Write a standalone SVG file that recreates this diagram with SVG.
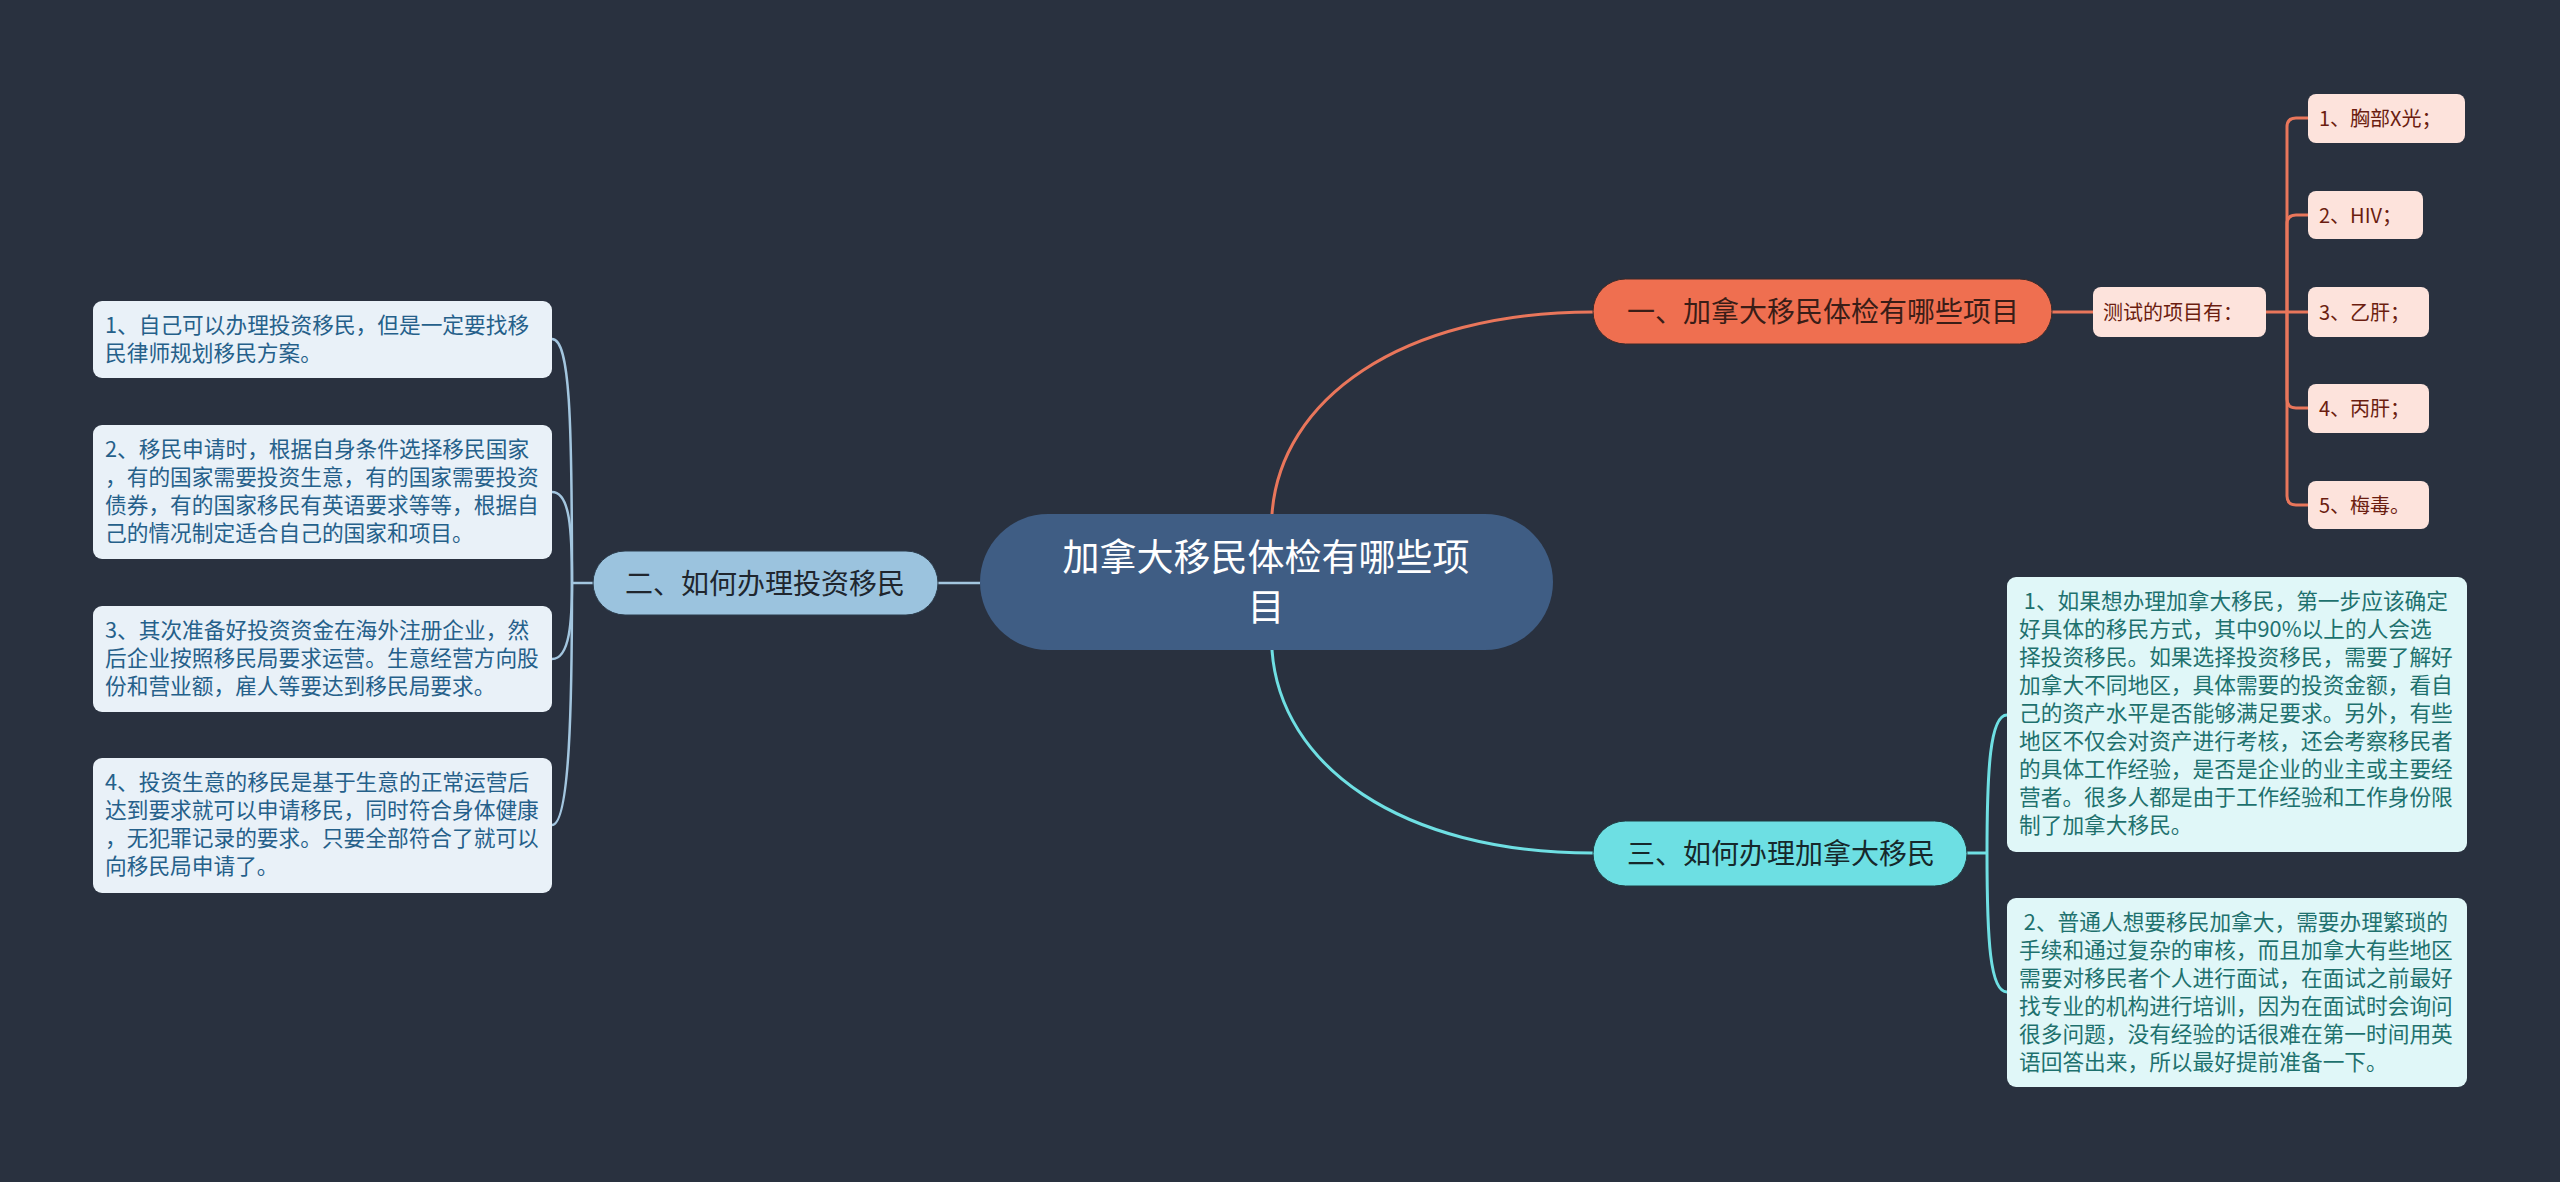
<svg xmlns="http://www.w3.org/2000/svg" width="2560" height="1182" viewBox="0 0 2560 1182">
<style>
text{font-family:"Noto Sans CJK SC","Noto Sans",sans-serif;}
.c{fill:#ffffff;font-size:37px;text-anchor:middle;}
.b{font-size:28px;}
.ol{fill:#fde3dc;}
.otx{fill:#6b1d10;font-size:20px;}
.ll{fill:#e9f1f8;}
.ltx{fill:#25608a;font-size:21.7px;}
.cl{fill:#e0f7f8;}
.ctx{fill:#1e716e;font-size:21.7px;}
.co{fill:none;stroke:#e9765b;stroke-width:3;}
.cb{fill:none;stroke:#a3c6df;stroke-width:2.5;}
.cc{fill:none;stroke:#6fdfe3;stroke-width:3;}
</style>
<rect x="0" y="0" width="2560" height="1182" fill="#29313f"/>
<g id="connectors">
<path class="co" d="M1272,514 C1280,400 1400,312 1593,312"/>
<path class="co" d="M2052,312 H2093"/>
<path class="co" d="M2266,312 H2308"/>
<path class="co" d="M2287,312 V127 Q2287,118 2296,118 H2308"/>
<path class="co" d="M2287,312 V224 Q2287,215 2296,215 H2308"/>
<path class="co" d="M2287,312 V399 Q2287,408 2296,408 H2308"/>
<path class="co" d="M2287,312 V496 Q2287,505 2296,505 H2308"/>
<path class="cc" d="M1272,650 C1280,765 1400,853 1593,853"/>
<path class="cc" d="M1967,853 H1987"/>
<path class="cc" d="M1987,853 C1987,770 1990,715 2007,715"/>
<path class="cc" d="M1987,853 C1987,940 1990,992 2007,992"/>
<path class="cb" d="M980,583 H938"/>
<path class="cb" d="M593,583 H572"/>
<path class="cb" d="M572,583 C572,420 570,339 552,339"/>
<path class="cb" d="M572,583 C572,530 570,492 552,492"/>
<path class="cb" d="M572,583 C572,620 570,659 552,659"/>
<path class="cb" d="M572,583 C572,700 570,825 552,825"/>
</g>
<g id="center">
<rect x="980" y="514" width="573" height="136" rx="68" fill="#3f5d84"/>
<text class="c" x="1266" y="571">加拿大移民体检有哪些项</text>
<text class="c" x="1266" y="621">目</text>
</g>
<g id="branch1">
<rect x="1593" y="279" width="459" height="65" rx="32.5" fill="#ef6f50" stroke="#3a2a2a" stroke-width="1"/>
<text class="b" x="1627" y="322" fill="#3a1d17">一、加拿大移民体检有哪些项目</text>
</g>
<g id="tests">
<rect class="ol" x="2093" y="287" width="173" height="50" rx="8"/>
<text class="otx" x="2103" y="320">测试的项目有：</text>
</g>
<g id="t1">
<rect class="ol" x="2308" y="94" width="157" height="49" rx="8"/>
<text class="otx" x="2319" y="126">1、胸部X光；</text>
</g>
<g id="t2">
<rect class="ol" x="2308" y="191" width="115" height="48" rx="8"/>
<text class="otx" x="2319" y="223">2、HIV；</text>
</g>
<g id="t3">
<rect class="ol" x="2308" y="287" width="121" height="50" rx="8"/>
<text class="otx" x="2319" y="320">3、乙肝；</text>
</g>
<g id="t4">
<rect class="ol" x="2308" y="384" width="121" height="49" rx="8"/>
<text class="otx" x="2319" y="416">4、丙肝；</text>
</g>
<g id="t5">
<rect class="ol" x="2308" y="481" width="121" height="48" rx="8"/>
<text class="otx" x="2319" y="513">5、梅毒。</text>
</g>
<g id="branch2">
<rect x="593" y="551" width="345" height="64" rx="32" fill="#9bc3de" stroke="#2a3a4a" stroke-width="1"/>
<text class="b" x="625" y="594" fill="#20262e">二、如何办理投资移民</text>
</g>
<g id="l1">
<rect class="ll" x="93" y="301" width="459" height="77" rx="9"/>
<text class="ltx"><tspan x="105" y="333">1、自己可以办理投资移民，但是一定要找移</tspan><tspan x="105" y="361">民律师规划移民方案。</tspan></text>
</g>
<g id="l2">
<rect class="ll" x="93" y="425" width="459" height="134" rx="9"/>
<text class="ltx"><tspan x="105" y="457">2、移民申请时，根据自身条件选择移民国家</tspan><tspan x="105" y="485">，有的国家需要投资生意，有的国家需要投资</tspan><tspan x="105" y="513">债券，有的国家移民有英语要求等等，根据自</tspan><tspan x="105" y="541">己的情况制定适合自己的国家和项目。</tspan></text>
</g>
<g id="l3">
<rect class="ll" x="93" y="606" width="459" height="106" rx="9"/>
<text class="ltx"><tspan x="105" y="638">3、其次准备好投资资金在海外注册企业，然</tspan><tspan x="105" y="666">后企业按照移民局要求运营。生意经营方向股</tspan><tspan x="105" y="694">份和营业额，雇人等要达到移民局要求。</tspan></text>
</g>
<g id="l4">
<rect class="ll" x="93" y="758" width="459" height="135" rx="9"/>
<text class="ltx"><tspan x="105" y="790">4、投资生意的移民是基于生意的正常运营后</tspan><tspan x="105" y="818">达到要求就可以申请移民，同时符合身体健康</tspan><tspan x="105" y="846">，无犯罪记录的要求。只要全部符合了就可以</tspan><tspan x="105" y="874">向移民局申请了。</tspan></text>
</g>
<g id="branch3">
<rect x="1593" y="821" width="374" height="65" rx="32.5" fill="#6ddfe3" stroke="#1f3a40" stroke-width="1"/>
<text class="b" x="1627" y="864" fill="#16282b">三、如何办理加拿大移民</text>
</g>
<g id="r1">
<rect class="cl" x="2007" y="577" width="460" height="275" rx="9"/>
<text class="ctx" xml:space="preserve"><tspan x="2019" y="609"> 1、如果想办理加拿大移民，第一步应该确定</tspan><tspan x="2019" y="637">好具体的移民方式，其中90%以上的人会选</tspan><tspan x="2019" y="665">择投资移民。如果选择投资移民，需要了解好</tspan><tspan x="2019" y="693">加拿大不同地区，具体需要的投资金额，看自</tspan><tspan x="2019" y="721">己的资产水平是否能够满足要求。另外，有些</tspan><tspan x="2019" y="749">地区不仅会对资产进行考核，还会考察移民者</tspan><tspan x="2019" y="777">的具体工作经验，是否是企业的业主或主要经</tspan><tspan x="2019" y="805">营者。很多人都是由于工作经验和工作身份限</tspan><tspan x="2019" y="833">制了加拿大移民。</tspan></text>
</g>
<g id="r2">
<rect class="cl" x="2007" y="898" width="460" height="189" rx="9"/>
<text class="ctx" xml:space="preserve"><tspan x="2019" y="930"> 2、普通人想要移民加拿大，需要办理繁琐的</tspan><tspan x="2019" y="958">手续和通过复杂的审核，而且加拿大有些地区</tspan><tspan x="2019" y="986">需要对移民者个人进行面试，在面试之前最好</tspan><tspan x="2019" y="1014">找专业的机构进行培训，因为在面试时会询问</tspan><tspan x="2019" y="1042">很多问题，没有经验的话很难在第一时间用英</tspan><tspan x="2019" y="1070">语回答出来，所以最好提前准备一下。</tspan></text>
</g>
</svg>
